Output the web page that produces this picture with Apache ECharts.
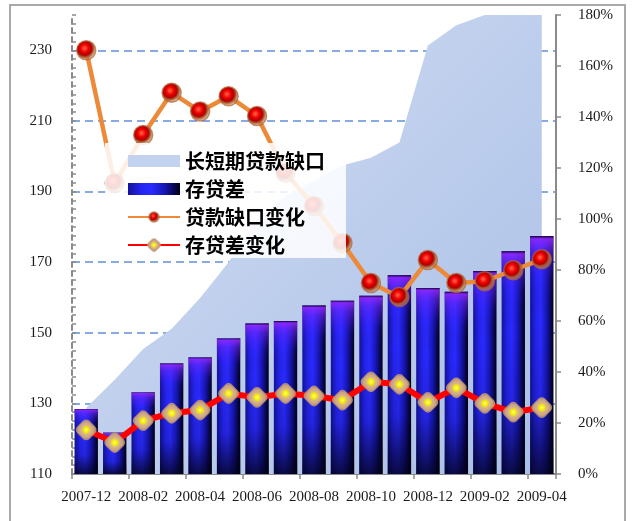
<!DOCTYPE html>
<html>
<head>
<meta charset="utf-8">
<script src="https://cdn.jsdelivr.net/npm/echarts@6/dist/echarts.min.js"></script>
<style>
  html, body { margin: 0; padding: 0; background: #fff; }
  #chart { width: 632px; height: 521px; }
</style>
</head>
<body>
<div id="chart"></div>
<script>
// Monthly categories
const months = ['2007-12', '2008-01', '2008-02', '2008-03', '2008-04', '2008-05', '2008-06',
  '2008-07', '2008-08', '2008-09', '2008-10', '2008-11', '2008-12', '2009-01', '2009-02',
  '2009-03', '2009-04'];

// 长短期贷款缺口 (%), right axis
const loanGapPct = [26, 37, 49, 57, 69, 83, 100, 109, 115, 121, 124, 130, 168, 176, 180, 180, 180];

// 存贷差, left axis
const depositLoanDiff = [128.4, 121.7, 133.1, 141.3, 143.0, 148.4, 152.6, 153.3, 157.7, 159.1,
  160.5, 166.3, 162.7, 161.6, 167.5, 173.1, 177.4];

// 贷款缺口变化, left axis
const loanGapChange = [230, 192.4, 206, 218, 212.7, 217, 211.4, 195.3, 185.9, 175.4,
  164.1, 160.1, 170.6, 164.1, 164.6, 167.7, 170.8];

// 存贷差变化, left axis
const diffChange = [122.5, 118.9, 125.1, 127.2, 128.1, 132.8, 131.7, 132.8, 132.1, 130.9,
  136.1, 135.4, 130.3, 134.4, 130.0, 127.5, 128.8];

// Left axis labels every 20 starting at 110
const leftLabels = [110, 130, 150, 170, 190, 210, 230];

const serif = '"Liberation Serif", "DejaVu Serif", serif';
const cjk = '"Noto Sans CJK SC", sans-serif';

const chart = echarts.init(document.getElementById('chart'), null, { renderer: 'canvas' });

const barFill = new echarts.graphic.LinearGradient(0, 0, 1, 0, [
  { offset: 0, color: '#12129a' },
  { offset: 0.25, color: '#2424ee' },
  { offset: 0.45, color: '#2a2aff' },
  { offset: 0.7, color: '#1717b8' },
  { offset: 0.9, color: '#06064c' },
  { offset: 1, color: '#000012' }
]);

const barShade = new echarts.graphic.LinearGradient(0, 0, 0, 1, [
  { offset: 0, color: 'rgba(20,0,40,0.95)' },
  { offset: 0.012, color: 'rgba(150,40,255,0.85)' },
  { offset: 0.06, color: 'rgba(120,40,255,0.55)' },
  { offset: 0.18, color: 'rgba(80,30,255,0.12)' },
  { offset: 0.35, color: 'rgba(0,0,0,0)' },
  { offset: 0.7, color: 'rgba(0,0,20,0.12)' },
  { offset: 1, color: 'rgba(0,0,10,0.75)' }
]);

const ballFill = new echarts.graphic.RadialGradient(0.42, 0.4, 0.55, [
  { offset: 0, color: '#ff6a4a' },
  { offset: 0.35, color: '#f00000' },
  { offset: 0.62, color: '#b00000' },
  { offset: 0.78, color: '#a8582e' },
  { offset: 1, color: 'rgba(200,140,90,0.55)' }
]);

const gemFill = new echarts.graphic.RadialGradient(0.5, 0.5, 0.55, [
  { offset: 0, color: '#ffff70' },
  { offset: 0.3, color: '#f0e800' },
  { offset: 0.48, color: '#d8b48e' },
  { offset: 0.85, color: '#c8a07c' },
  { offset: 1, color: 'rgba(200,160,120,0.6)' }
]);

const option = {
  animation: false,
  backgroundColor: '#ffffff',
  graphic: [{
    type: 'rect',
    shape: { x: 10, y: 5, width: 615, height: 530 },
    style: { fill: 'none', stroke: '#a9a9a9', lineWidth: 2 },
    silent: true,
    z: 0
  }],
  legend: {
    orient: 'vertical',
    left: 105,
    top: 143,
    z: 10,
    padding: [8, 21, 3, 22],
    itemGap: 8,
    itemWidth: 52,
    itemHeight: 12,
    backgroundColor: 'rgba(255,255,255,0.86)',
    textStyle: { fontFamily: cjk, fontWeight: 'bold', fontSize: 20, color: '#000' },
    data: [
      { name: '长短期贷款缺口', icon: 'rect', itemStyle: { color: '#c3d2ee' } },
      { name: '存贷差', icon: 'rect' },
      { name: '贷款缺口变化' },
      { name: '存贷差变化' }
    ]
  },
  grid: { left: 72, right: 76, top: 15, bottom: 47 },
  xAxis: {
    type: 'category',
    data: months,
    boundaryGap: true,
    axisLine: { lineStyle: { color: '#8a8a8a', width: 2 } },
    axisTick: { show: true, length: 5, lineStyle: { color: '#8a8a8a', width: 1.5 } },
    axisLabel: { interval: 1, margin: 16, fontFamily: serif, fontSize: 15, color: '#1a1a1a' },
    splitLine: { show: false }
  },
  yAxis: [
    {
      type: 'value',
      min: 110,
      max: 240,
      interval: 10,
      position: 'left',
      axisLine: { show: true, lineStyle: { color: '#8a8a8a', width: 2, type: [5, 4] } },
      axisTick: { show: true, inside: true, length: 4, lineStyle: { color: '#8a8a8a', width: 1.5 } },
      minorTick: { show: true, splitNumber: 4, length: 4, lineStyle: { color: '#8a8a8a', width: 1.5 } },
      axisLabel: {
        margin: 20,
        fontFamily: serif,
        fontSize: 15,
        color: '#1a1a1a',
        formatter: v => (leftLabels.indexOf(v) >= 0 ? String(v) : '')
      },
      splitLine: {
        show: true,
        lineStyle: {
          // gridlines only at the labelled values (every other tick)
          color: ['#5f8fd8', 'rgba(0,0,0,0)'],
          width: 1.5,
          type: [8, 5]
        }
      }
    },
    {
      type: 'value',
      min: 0,
      max: 180,
      interval: 20,
      position: 'right',
      axisLine: { show: true, lineStyle: { color: '#8a8a8a', width: 2 } },
      axisTick: { show: true, length: 5, lineStyle: { color: '#8a8a8a', width: 1.5 } },
      axisLabel: { margin: 22, fontFamily: serif, fontSize: 15, color: '#1a1a1a', formatter: '{value}%' },
      splitLine: { show: false }
    }
  ],
  series: [
    {
      name: '长短期贷款缺口',
      type: 'line',
      yAxisIndex: 1,
      data: loanGapPct,
      showSymbol: false,
      symbol: 'none',
      lineStyle: { width: 0 },
      itemStyle: { color: '#c3d2ee' },
      areaStyle: {
        opacity: 1,
        color: new echarts.graphic.LinearGradient(0, 0, 1, 1, [
          { offset: 0, color: '#d3def2' },
          { offset: 1, color: '#a9bfe7' }
        ])
      },
      z: 2,
      silent: true
    },
    {
      name: '存贷差',
      type: 'bar',
      yAxisIndex: 0,
      data: depositLoanDiff,
      barCategoryGap: '18%',
      itemStyle: { color: barFill },
      z: 3
    },
    {
      name: '存贷差-shade',
      type: 'bar',
      yAxisIndex: 0,
      data: depositLoanDiff,
      barGap: '-100%',
      barCategoryGap: '18%',
      itemStyle: { color: barShade },
      silent: true,
      z: 3
    },
    {
      name: '贷款缺口变化',
      type: 'line',
      yAxisIndex: 0,
      data: loanGapChange,
      symbol: 'circle',
      symbolSize: 19,
      showAllSymbol: true,
      lineStyle: { color: '#ec8a3a', width: 4.5 },
      itemStyle: { color: ballFill, borderColor: 'rgba(175,100,55,0.7)', borderWidth: 1.5 },
      z: 5
    },
    {
      name: '存贷差变化',
      type: 'line',
      yAxisIndex: 0,
      data: diffChange,
      symbol: 'roundRect',
      symbolRotate: 45,
      symbolSize: 16,
      showAllSymbol: true,
      lineStyle: { color: '#ff0000', width: 6 },
      itemStyle: { color: gemFill, borderColor: 'rgba(190,150,115,0.8)', borderWidth: 1.5 },
      z: 5
    }
  ]
};

chart.setOption(option);
</script>
</body>
</html>
